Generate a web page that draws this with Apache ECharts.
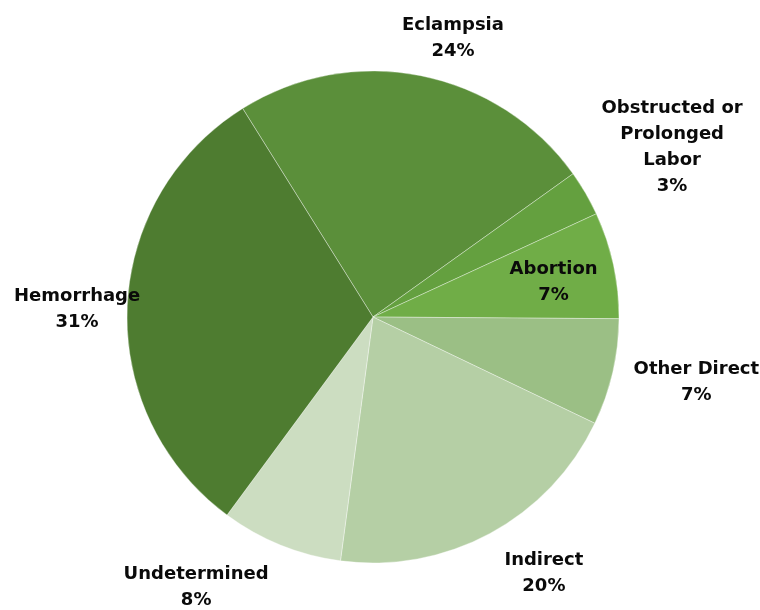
<!DOCTYPE html>
<html>
<head>
<meta charset="utf-8">
<script src="https://cdn.jsdelivr.net/npm/echarts@6/dist/echarts.min.js"></script>
<style>
  html, body { margin: 0; padding: 0; background: #fff; }
  #chart { width: 760px; height: 610px; }
</style>
</head>
<body>
<div id="chart"></div>
<script>
// Causes of maternal death, share of total (%)
const causes = ['Eclampsia', 'Obstructed or\nProlonged\nLabor', 'Abortion', 'Other Direct', 'Indirect', 'Undetermined', 'Hemorrhage'];
const shares = [24, 3, 7, 7, 20, 8, 31];
const sliceColors = ['#5B8F3A', '#64A03F', '#70AD47', '#9BBF85', '#B5CFA5', '#CCDDC1', '#4E7C30'];

// Label anchors in polar form: [distance from centre in px, angle in degrees clockwise from 12 o'clock]
const labelPolar = [[290, 16], [344, 60.4], [184, 79], [330, 101.5], [308, 146.3], [323, 213.2], [296, 271.4]];

const CX = 373, CY = 317, R = 246;

const chart = echarts.init(document.getElementById('chart'));
chart.setOption({
  animation: false,
  series: [{
    type: 'pie',
    center: [CX, CY],
    radius: R,
    startAngle: 122,
    clockwise: true,
    avoidLabelOverlap: false,
    data: causes.map((name, i) => ({ name, value: shares[i], itemStyle: { color: sliceColors[i] } })),
    itemStyle: { borderColor: 'rgba(255,255,255,0.35)', borderWidth: 1 },
    label: {
      show: true,
      position: 'outside',
      formatter: '{b}\n{c}%',
      fontFamily: 'DejaVu Sans',
      fontWeight: 'bold',
      fontSize: 18,
      lineHeight: 26,
      color: '#0a0a0a',
      align: 'center'
    },
    labelLine: { show: false },
    emphasis: { disabled: true },
    labelLayout: function (p) {
      const [d, a] = labelPolar[p.dataIndex];
      const rad = a * Math.PI / 180;
      return {
        x: CX + d * Math.sin(rad),
        y: CY - d * Math.cos(rad),
        align: 'center',
        verticalAlign: 'middle'
      };
    }
  }]
});
</script>
</body>
</html>
